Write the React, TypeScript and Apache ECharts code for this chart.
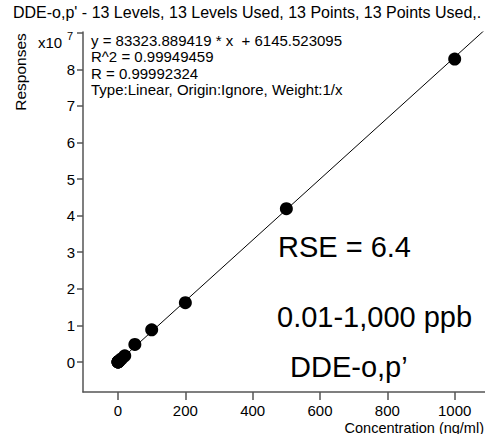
import React, { useEffect, useRef } from "react";
import * as echarts from "echarts";

const concentrations = [0.01, 0.05, 0.1, 0.5, 1, 5, 10, 20, 50, 100, 200, 500, 1000];
const responses = [7000, 10300, 14500, 48000, 90000, 420000, 850000, 1700000, 4800000, 8800000, 16200000, 41900000, 82800000];
const slope = 83323.889419;
const intercept = 6145.523095;
const lineX = [0.01, 1100];
const xTicks = [0, 200, 400, 600, 800, 1000];
const yTicks = [0, 1e7, 2e7, 3e7, 4e7, 5e7, 6e7, 7e7, 8e7, 9e7];
const titleText = "DDE-o,p' - 13 Levels, 13 Levels Used, 13 Points, 13 Points Used,.";
const infoLines = [
  "y = 83323.889419 * x  + 6145.523095",
  "R^2 = 0.99949459",
  "R = 0.99992324",
  "Type:Linear, Origin:Ignore, Weight:1/x",
];

const FONT = "'Liberation Sans', Arial, sans-serif";

export default function App() {
  const ref = useRef<HTMLDivElement>(null);
  useEffect(() => {
    document.body.style.margin = "0";
    const chart = echarts.init(ref.current!, null, { renderer: "svg" });
    const axisColor = "#555";
    chart.setOption({
      animation: false,
      grid: { left: 83, right: 0, top: 32, bottom: 42 },
      xAxis: {
        type: "value",
        min: -104,
        max: 1090,
        splitLine: { show: false },
        axisLine: { show: true, onZero: false, lineStyle: { color: axisColor, width: 1.5 } },
        axisTick: { show: true, length: 8, customValues: xTicks, lineStyle: { color: axisColor, width: 1.5 } },
        axisLabel: {
          customValues: xTicks,
          margin: 11,
          color: "#000",
          fontSize: 15,
          fontFamily: FONT,
          formatter: (v: number) => String(v),
        },
      },
      yAxis: {
        type: "value",
        min: -0.82e7,
        max: 9.02e7,
        splitLine: { show: false },
        axisLine: { show: true, onZero: false, lineStyle: { color: axisColor, width: 1.5 } },
        axisTick: { show: true, length: 6, customValues: yTicks, lineStyle: { color: axisColor, width: 1.5 } },
        axisLabel: {
          customValues: yTicks,
          margin: 8,
          color: "#000",
          fontSize: 15,
          fontFamily: FONT,
          formatter: (v: number) => (v >= 9e7 ? "" : String(Math.round(v / 1e7))),
        },
      },
      series: [
        {
          type: "line",
          data: lineX.map((x) => [x, slope * x + intercept]),
          showSymbol: false,
          clip: true,
          lineStyle: { color: "#000", width: 1 },
          z: 2,
        },
        {
          type: "scatter",
          data: concentrations.map((c, i) => [c, responses[i]]),
          symbolSize: 13,
          itemStyle: { color: "#000", opacity: 1 },
          z: 3,
        },
      ],
      graphic: [
        { type: "text", left: 13, top: 4, style: { text: titleText, fontSize: 16, fontFamily: FONT, fill: "#000" } },
        ...infoLines.map((t, i) => ({
          type: "text",
          left: 91,
          top: 33 + i * 16.3,
          style: { text: t, fontSize: 15, fontFamily: FONT, fill: "#000" },
        })),
        { type: "text", left: 38, top: 35, style: { text: "x10", fontSize: 15, fontFamily: FONT, fill: "#000" } },
        { type: "text", left: 67, top: 30, style: { text: "7", fontSize: 11, fontFamily: FONT, fill: "#000" } },
        {
          type: "text",
          x: 20,
          y: 72,
          rotation: Math.PI / 2,
          style: { text: "Responses", fontSize: 15.5, fontFamily: FONT, fill: "#000", align: "center", verticalAlign: "middle" },
        },
        {
          type: "text",
          right: 1,
          top: 420,
          style: { text: "Concentration (ng/ml)", fontSize: 14.5, fontFamily: FONT, fill: "#000" },
        },
        { type: "text", left: 278, top: 232, style: { text: "RSE = 6.4", fontSize: 29, fontFamily: FONT, fill: "#000" } },
        { type: "text", left: 277, top: 302, style: { text: "0.01-1,000 ppb", fontSize: 29, fontFamily: FONT, fill: "#000" } },
        { type: "text", left: 290, top: 352, style: { text: "DDE-o,p\u2019", fontSize: 29, fontFamily: FONT, fill: "#000" } },
      ],
    });
    return () => chart.dispose();
  }, []);
  return <div ref={ref} style={{ width: 485, height: 434 }} />;
}
